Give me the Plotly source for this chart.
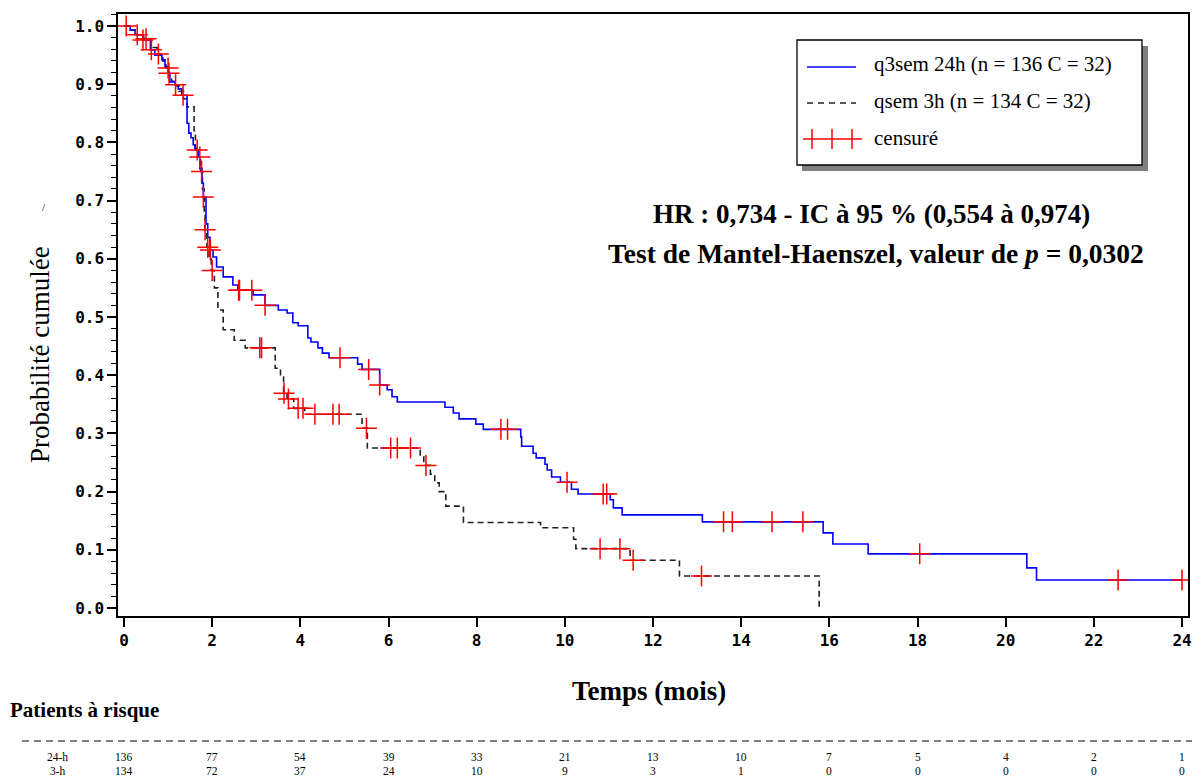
import numpy as np
import plotly.graph_objects as go

# ---------------- data ----------------
blue_t = [0, 0.14, 0.25, 0.43, 0.6, 0.7, 0.86, 0.93, 1.0, 1.04, 1.16, 1.23, 1.31, 1.43, 1.47,
          1.52, 1.57, 1.61, 1.68, 1.72, 1.77, 1.8, 1.86, 1.9, 1.95, 2.02, 2.1, 2.25, 2.47, 2.58,
          2.93, 3.2, 3.5, 3.7, 3.83, 3.95, 4.17, 4.24, 4.4, 4.5, 4.65, 5.3, 5.4, 5.8, 5.97,
          6.08, 6.2, 7.28, 7.47, 7.6, 7.98, 8.15, 9.0, 9.02, 9.28, 9.35, 9.55, 9.6, 9.7, 9.9,
          10.15, 10.3, 11.03, 11.1, 11.3, 13.12, 15.86, 16.08, 16.88, 20.48, 20.7, 24.0]
blue_s = [1.0, 0.993, 0.985, 0.976, 0.959, 0.95, 0.942, 0.93, 0.919, 0.904, 0.899, 0.892, 0.881,
          0.833, 0.816, 0.808, 0.796, 0.787, 0.775, 0.755, 0.73, 0.706, 0.66, 0.637, 0.615,
          0.603, 0.586, 0.569, 0.555, 0.546, 0.538, 0.52, 0.512, 0.507, 0.49, 0.485, 0.464,
          0.457, 0.447, 0.438, 0.43, 0.419, 0.41, 0.383, 0.375, 0.363, 0.354, 0.345, 0.335,
          0.325, 0.316, 0.307, 0.294, 0.278, 0.266, 0.258, 0.247, 0.237, 0.225, 0.216, 0.204,
          0.196, 0.186, 0.172, 0.16, 0.148, 0.129, 0.11, 0.093, 0.069, 0.048, 0.048]
blue_cens = [0.05, 0.3, 0.43, 0.62, 1.02, 1.17, 1.34, 1.66, 1.8, 1.96, 2.6, 2.62, 2.9, 3.2,
             4.9, 5.55, 5.8, 8.55, 8.7, 10.05, 10.87, 10.95, 13.6, 13.8, 14.7, 15.4, 18.05,
             22.55, 24.0]

black_t = [0, 0.14, 0.3, 0.45, 0.62, 0.75, 0.88, 0.95, 1.02, 1.08, 1.18, 1.25, 1.35, 1.43, 1.59,
           1.62, 1.7, 1.74, 1.78, 1.82, 1.84, 1.88, 1.93, 1.98, 2.05, 2.13, 2.25, 2.5, 2.75,
           3.43, 3.55, 3.62, 3.7, 3.85, 4.1, 5.4, 5.52, 6.72, 6.8, 6.95, 7.05, 7.15, 7.3, 7.7,
           9.45, 10.2, 10.25, 11.48, 12.6, 15.77]
black_s = [1.0, 0.993, 0.985, 0.978, 0.963, 0.952, 0.94, 0.928, 0.915, 0.905, 0.897, 0.888,
           0.875, 0.861, 0.82, 0.79, 0.775, 0.75, 0.72, 0.68, 0.65, 0.62, 0.6, 0.58, 0.55,
           0.512, 0.478, 0.46, 0.447, 0.412, 0.397, 0.369, 0.359, 0.343, 0.333, 0.309, 0.275,
           0.26, 0.245, 0.23, 0.215, 0.2, 0.175, 0.147, 0.138, 0.118, 0.102, 0.082, 0.055, 0.0]
black_cens = [0.5, 0.78, 1.0, 1.72, 1.76, 1.84, 1.9, 2.0, 3.08, 3.12, 3.63, 3.73, 3.95, 4.06,
              4.33, 4.74, 4.88, 5.5, 6.05, 6.2, 6.5, 6.85, 10.8, 11.25, 11.55, 13.1]

risk_times = [0, 2, 4, 6, 8, 10, 12, 14, 16, 18, 20, 22, 24]
risk_24h = [136, 77, 54, 39, 33, 21, 13, 10, 7, 5, 4, 2, 1]
risk_3h = [134, 72, 37, 24, 10, 9, 3, 1, 0, 0, 0, 0, 0]

y_ticks = [0.0, 0.1, 0.2, 0.3, 0.4, 0.5, 0.6, 0.7, 0.8, 0.9, 1.0]
x_ticks = [0, 2, 4, 6, 8, 10, 12, 14, 16, 18, 20, 22, 24]

legend_labels = ["q3sem 24h (n = 136 C = 32)", "qsem 3h (n = 134 C = 32)", "censuré"]


def surv_at(times, surv, tc):
    t = np.asarray(times)
    s = np.asarray(surv)
    idx = np.searchsorted(t, np.asarray(tc), side="right") - 1
    return s[idx]


# ---------------- geometry ----------------
W, H = 1196, 779
L, R, T, B = 118, 1188, 14, 616


def px(xp):
    return (xp - L) / (R - L)


def py(yp):
    return (B - yp) / (B - T)


SERIF = "Liberation Serif, Times New Roman, serif"
MONO = "DejaVu Sans Mono, monospace"

fig = go.Figure()
fig.add_trace(go.Scatter(x=black_t, y=black_s, mode="lines", line_shape="hv",
                         line=dict(color="#222222", width=1.6, dash="6px,4px"),
                         showlegend=False, hoverinfo="skip"))
fig.add_trace(go.Scatter(x=blue_t, y=blue_s, mode="lines", line_shape="hv",
                         line=dict(color="#0000ff", width=1.6),
                         showlegend=False, hoverinfo="skip"))
fig.add_trace(go.Scatter(x=black_cens, y=surv_at(black_t, black_s, black_cens), mode="markers",
                         marker=dict(symbol="cross-thin", size=15,
                                     line=dict(color="#ff0000", width=1.5)),
                         showlegend=False, hoverinfo="skip"))
fig.add_trace(go.Scatter(x=blue_cens, y=surv_at(blue_t, blue_s, blue_cens), mode="markers",
                         marker=dict(symbol="cross-thin", size=15,
                                     line=dict(color="#ff0000", width=1.5)),
                         showlegend=False, hoverinfo="skip"))

shapes = []
annotations = []

# legend box with shadow
shapes.append(dict(type="rect", xref="paper", yref="paper", x0=px(802), x1=px(1148),
                   y0=py(171), y1=py(46), fillcolor="#7f7f7f", line=dict(width=0), layer="above"))
shapes.append(dict(type="rect", xref="paper", yref="paper", x0=px(797), x1=px(1142),
                   y0=py(165), y1=py(40), fillcolor="white", line=dict(color="black", width=1.3),
                   layer="above"))
shapes.append(dict(type="line", xref="paper", yref="paper", x0=px(807), x1=px(856),
                   y0=py(67), y1=py(67), line=dict(color="#0000ff", width=1.5), layer="above"))
shapes.append(dict(type="line", xref="paper", yref="paper", x0=px(807), x1=px(856),
                   y0=py(103), y1=py(103), line=dict(color="#222222", width=1.5, dash="6px,5px"),
                   layer="above"))
shapes.append(dict(type="line", xref="paper", yref="paper", x0=px(803), x1=px(862),
                   y0=py(139), y1=py(139), line=dict(color="#ff0000", width=1.5), layer="above"))
for xv in (812, 832, 852):
    shapes.append(dict(type="line", xref="paper", yref="paper", x0=px(xv), x1=px(xv),
                       y0=py(129), y1=py(149), line=dict(color="#ff0000", width=1.5),
                       layer="above"))
for lab, yy in zip(legend_labels, (64, 101, 138)):
    annotations.append(dict(text=lab, xref="paper", yref="paper", x=px(872), y=py(yy),
                            xanchor="left", yanchor="middle", showarrow=False,
                            font=dict(family=SERIF, size=21, color="black")))

# HR text
annotations.append(dict(text="<b>HR : 0,734 - IC à 95 % (0,554 à 0,974)</b>", xref="paper",
                        yref="paper", x=px(871), y=py(214), xanchor="center", yanchor="middle",
                        showarrow=False, font=dict(family=SERIF, size=27, color="black")))
annotations.append(dict(text="<b>Test de Mantel-Haenszel, valeur de <i>p</i> = 0,0302</b>",
                        xref="paper", yref="paper", x=px(876), y=py(253), xanchor="center",
                        yanchor="middle", showarrow=False,
                        font=dict(family=SERIF, size=27.5, color="black")))

# axis titles
annotations.append(dict(text="Probabilité cumulée", xref="paper", yref="paper", x=px(40),
                        y=py(355), textangle=-90, xanchor="center", yanchor="middle",
                        showarrow=False, font=dict(family=SERIF, size=27, color="black")))
annotations.append(dict(text="/", xref="paper", yref="paper", x=px(44), y=py(207),
                        xanchor="center", yanchor="middle", showarrow=False,
                        font=dict(family=SERIF, size=11, color="black")))
annotations.append(dict(text="<b>Temps (mois)</b>", xref="paper", yref="paper", x=px(649),
                        y=py(691), xanchor="center", yanchor="middle", showarrow=False,
                        font=dict(family=SERIF, size=27, color="black")))
annotations.append(dict(text="<b>Patients à risque</b>", xref="paper", yref="paper", x=px(8),
                        y=py(710), xanchor="left", yanchor="middle", showarrow=False,
                        font=dict(family=SERIF, size=21, color="black")))

# risk table
shapes.append(dict(type="line", xref="paper", yref="paper", x0=px(22), x1=px(1192),
                   y0=py(741), y1=py(741), line=dict(color="black", width=1, dash="7px,5px")))
annotations.append(dict(text="24-h", xref="paper", yref="paper", x=px(70), y=py(757),
                        xanchor="right", yanchor="middle", showarrow=False,
                        font=dict(family=SERIF, size=11.5, color="black")))
annotations.append(dict(text="3-h", xref="paper", yref="paper", x=px(68), y=py(771),
                        xanchor="right", yanchor="middle", showarrow=False,
                        font=dict(family=SERIF, size=11.5, color="black")))
for t, a, b in zip(risk_times, risk_24h, risk_3h):
    annotations.append(dict(text=str(a), xref="x", yref="paper", x=t, y=py(757),
                            xanchor="center", yanchor="middle", showarrow=False,
                            font=dict(family=SERIF, size=11.5, color="black")))
    annotations.append(dict(text=str(b), xref="x", yref="paper", x=t, y=py(771),
                            xanchor="center", yanchor="middle", showarrow=False,
                            font=dict(family=SERIF, size=11.5, color="black")))

x0 = -6 / 44.08
fig.update_layout(
    width=W, height=H,
    margin=dict(l=L, r=W - R, t=T, b=H - B, autoexpand=False),
    plot_bgcolor="white", paper_bgcolor="white",
    showlegend=False,
    shapes=shapes, annotations=annotations,
    xaxis=dict(range=[x0, 24 + (R - 1182) / 44.08], tickvals=x_ticks,
               ticktext=[str(v) for v in x_ticks], ticks="outside", ticklen=9, tickwidth=1.5,
               tickcolor="black", showline=True, linecolor="black", linewidth=1.5, mirror=True,
               showgrid=False, zeroline=False,
               tickfont=dict(family=MONO, size=16, color="black", weight="bold")),
    yaxis=dict(range=[(608 - 616) / 582, (608 - 14) / 582], tickvals=y_ticks,
               ticktext=["%.1f" % v for v in y_ticks], ticks="outside", ticklen=9, tickwidth=1.5,
               tickcolor="black", showline=True, linecolor="black", linewidth=1.5, mirror=True,
               showgrid=False, zeroline=False,
               minor=dict(dtick=0.02, tick0=0, ticks="outside", ticklen=5, tickwidth=1,
                          tickcolor="black", showgrid=False),
               tickfont=dict(family=MONO, size=16, color="black", weight="bold")),
)

fig.write_html("out.html", config={"displayModeBar": False},
               post_script="document.body.style.margin='0px';"
                           "document.body.style.overflow='hidden';")
